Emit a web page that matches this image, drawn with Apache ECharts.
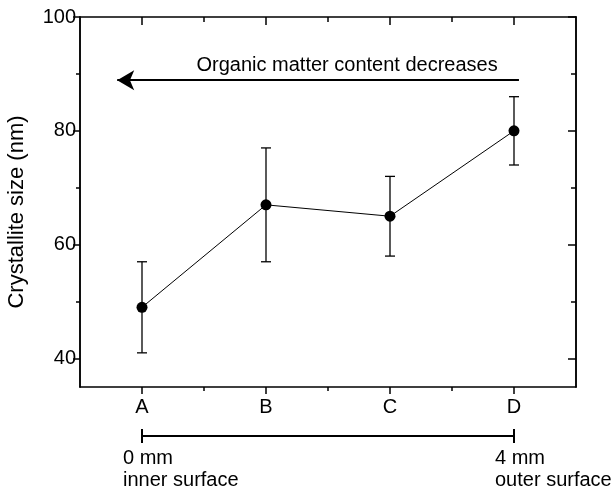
<!DOCTYPE html>
<html>
<head>
<meta charset="utf-8">
<title>Crystallite size</title>
<script src="https://cdn.jsdelivr.net/npm/echarts@6/dist/echarts.min.js"></script>
<style>
  html, body { margin: 0; padding: 0; background: #fff; }
  #main { width: 616px; height: 489px; }
</style>
</head>
<body>
<div id="main"></div>
<script>
// data
var categories = ['A', 'B', 'C', 'D'];
var positions = [1, 2, 3, 4];
var sizes = [49, 67, 65, 80];
var errLow = [41, 57, 58, 74];
var errHigh = [57, 77, 72, 86];
var yMajor = [40, 60, 80, 100];
var yMinor = [50, 70, 90];
var xMinor = [1.5, 2.5, 3.5];
var arrowY = 88.9;
var arrowFrom = 4.04, arrowTo = 0.8;
var noteText = 'Organic matter content decreases';
var noteAt = [2.654, 91.4];
var scaleEnds = [1, 4];
var scaleLabels = ['0 mm\ninner surface', '4 mm\nouter surface'];

var FONT = '"Liberation Sans", Arial, Helvetica, sans-serif';
var BLACK = '#000';

function xAx(pos, ticks, len, inside, labels) {
    return {
        type: 'value', position: pos, gridIndex: 0,
        min: 0.5, max: 4.5,
        axisLine: { show: labels, lineStyle: { color: BLACK, width: 1.5 } },
        axisTick: { show: true, customValues: ticks, inside: inside, length: len,
                    lineStyle: { color: BLACK, width: 1.5 } },
        axisLabel: labels ? {
            customValues: positions, margin: 10, color: BLACK,
            fontFamily: FONT, fontSize: 20,
            formatter: function (v) { return categories[Math.round(v) - 1]; }
        } : { show: false },
        splitLine: { show: false }
    };
}
function yAx(pos, ticks, len, inside, labels) {
    return {
        type: 'value', position: pos, gridIndex: 0,
        min: 35, max: 100,
        axisLine: { show: true, lineStyle: { color: BLACK, width: 1.5 } },
        axisTick: { show: true, customValues: ticks, inside: inside, length: len,
                    lineStyle: { color: BLACK, width: 1.5 } },
        axisLabel: labels ? {
            customValues: yMajor, margin: 4, color: BLACK,
            fontFamily: FONT, fontSize: 20
        } : { show: false },
        splitLine: { show: false }
    };
}

var xAxes = [
    xAx('bottom', positions, 7, false, true),
    xAx('bottom', xMinor, 4, false, false),
    xAx('top', positions, 8, true, true),
    xAx('top', xMinor, 5, true, false),
    // scale bar axis
    { type: 'value', gridIndex: 1, min: 0.5, max: 4.5, show: false }
];
xAxes[2].axisLabel = { show: false };
var yAxes = [
    yAx('left', yMajor, 7, false, true),
    yAx('left', yMinor, 4, false, false),
    yAx('right', yMajor, 8, true, false),
    yAx('right', yMinor, 5, true, false),
    { type: 'value', gridIndex: 1, min: -1, max: 1, show: false }
];
yAxes[0].name = 'Crystallite size (nm)';
yAxes[0].nameLocation = 'middle';
yAxes[0].nameGap = 52;
yAxes[0].nameTextStyle = { color: BLACK, fontFamily: FONT, fontSize: 22, padding: [0, 20, 0, 0] };

var points = positions.map(function (x, i) { return [x, sizes[i]]; });
var bars = positions.map(function (x, i) { return [x, errLow[i], errHigh[i]]; });

var option = {
    animation: false,
    backgroundColor: '#fff',
    grid: [
        { left: 80, right: 40, top: 17, bottom: 102, outerBoundsMode: 'none' },
        { left: 80, right: 40, top: 426, height: 20, outerBoundsMode: 'none' }
    ],
    xAxis: xAxes,
    yAxis: yAxes,
    series: [
        {
            type: 'custom',
            xAxisIndex: 0, yAxisIndex: 0,
            data: bars,
            renderItem: function (params, api) {
                var lo = api.coord([api.value(0), api.value(1)]);
                var hi = api.coord([api.value(0), api.value(2)]);
                var w = 5;
                var st = { stroke: BLACK, lineWidth: 1.3 };
                return {
                    type: 'group',
                    children: [
                        { type: 'line', shape: { x1: lo[0], y1: lo[1], x2: hi[0], y2: hi[1] }, style: st },
                        { type: 'line', shape: { x1: lo[0] - w, y1: lo[1], x2: lo[0] + w, y2: lo[1] }, style: st },
                        { type: 'line', shape: { x1: hi[0] - w, y1: hi[1], x2: hi[0] + w, y2: hi[1] }, style: st }
                    ]
                };
            }
        },
        {
            type: 'line',
            xAxisIndex: 0, yAxisIndex: 0,
            data: points,
            symbol: 'circle', symbolSize: 11,
            itemStyle: { color: BLACK },
            lineStyle: { color: BLACK, width: 1 },
            markLine: {
                silent: true,
                symbol: ['none', 'arrow'],
                symbolSize: [15, 17],
                lineStyle: { color: BLACK, width: 2, type: 'solid' },
                label: { show: false },
                data: [[{ coord: [arrowFrom, arrowY] }, { coord: [arrowTo, arrowY] }]]
            },
            markPoint: {
                silent: true,
                symbol: 'rect',
                symbolSize: 1,
                itemStyle: { color: 'rgba(0,0,0,0)' },
                label: {
                    show: true, position: 'inside', color: BLACK,
                    fontFamily: FONT, fontSize: 20,
                    formatter: noteText
                },
                data: [{ coord: noteAt }]
            }
        },
        {
            type: 'line',
            xAxisIndex: 4, yAxisIndex: 4,
            data: scaleEnds.map(function (x) { return [x, 0]; }),
            symbol: 'rect', symbolSize: [2, 14],
            itemStyle: { color: BLACK },
            lineStyle: { color: BLACK, width: 2 },
            label: {
                show: true, position: 'bottom', distance: 4,
                color: BLACK, fontFamily: FONT, fontSize: 20, lineHeight: 22,
                align: 'left', offset: [-19, 0],
                formatter: function (p) { return scaleLabels[p.dataIndex]; }
            }
        }
    ]
};

var myChart = echarts.init(document.getElementById('main'));
myChart.setOption(option);
</script>
</body>
</html>
